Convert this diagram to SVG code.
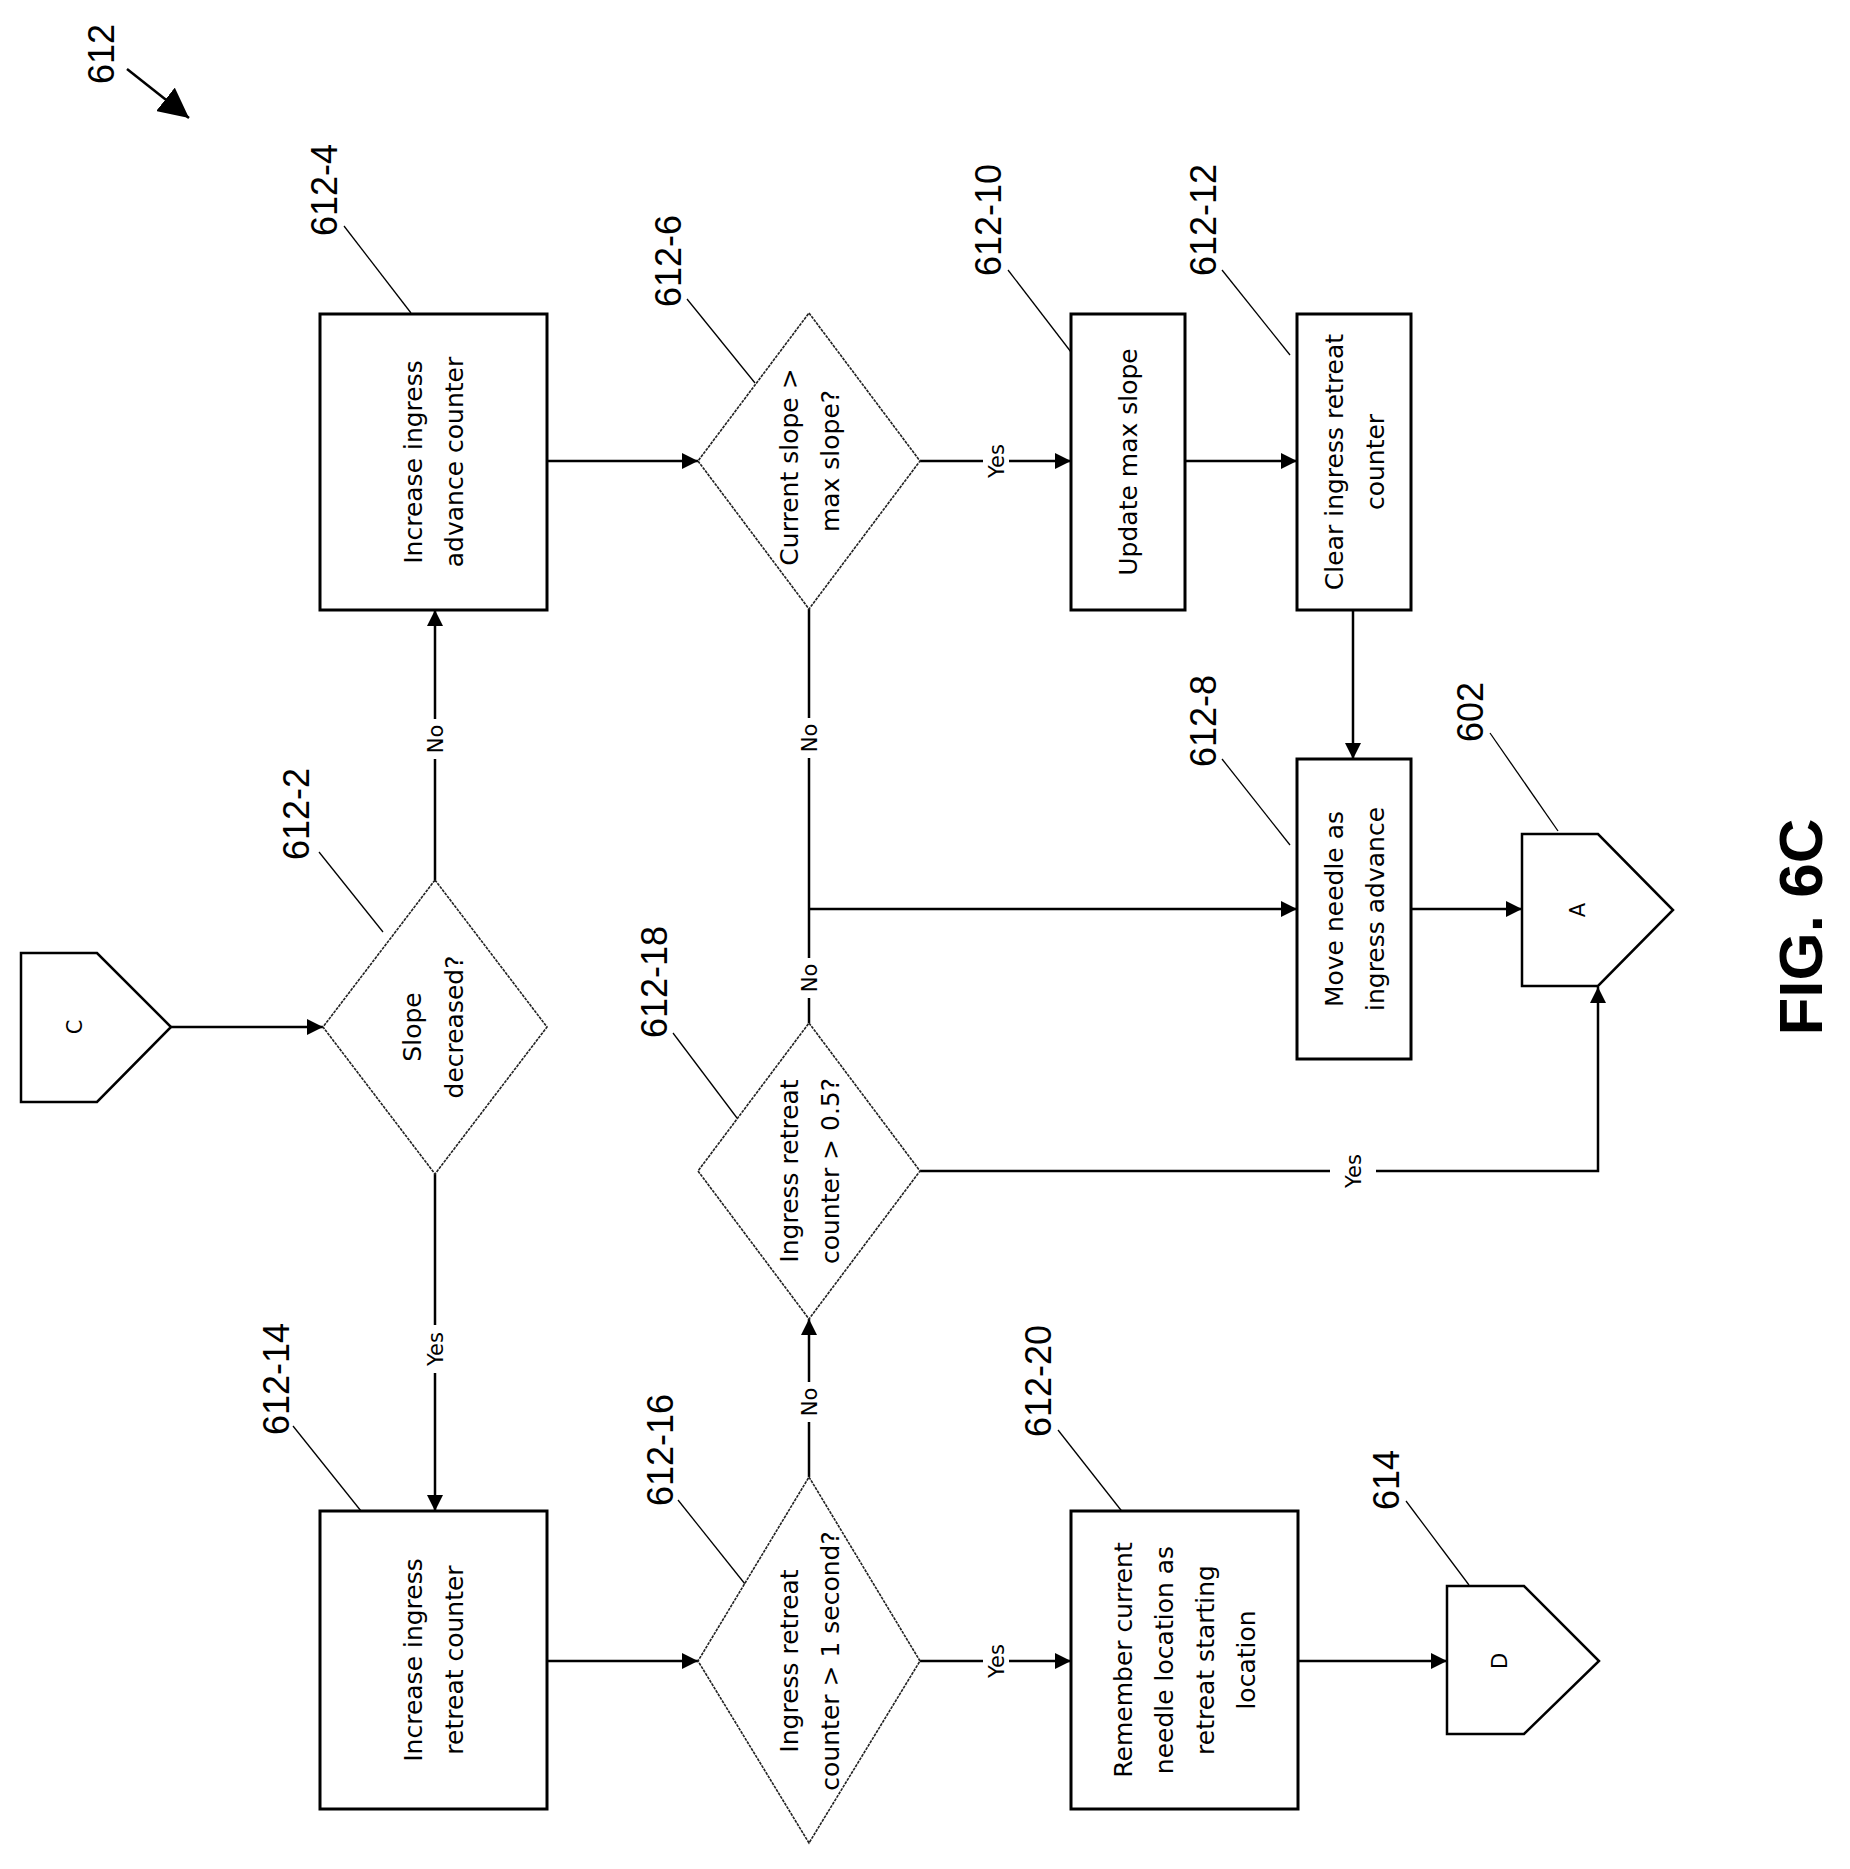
<svg xmlns="http://www.w3.org/2000/svg" width="1850" height="1869" viewBox="0 0 1850 1869">
<style>
.box{fill:#fff;stroke:#000;stroke-width:3}
.dia{fill:#fff;stroke:#222;stroke-width:1.6;stroke-dasharray:3 1}
.ln{fill:none;stroke:#000;stroke-width:2.5}
.ld{fill:none;stroke:#000;stroke-width:1.3}
.t{font-family:"DejaVu Sans",sans-serif;font-size:25px;text-anchor:middle;fill:#000}
.lab{font-family:"DejaVu Sans",sans-serif;font-size:21px;text-anchor:middle;fill:#000}
.ref{font-family:"Liberation Sans",sans-serif;font-size:36px;text-anchor:middle;fill:#000}
.bg{fill:#fff}
</style>
<defs>
<marker id="ah" viewBox="0 0 10 10" refX="10" refY="5" markerWidth="16" markerHeight="16" markerUnits="userSpaceOnUse" orient="auto"><path d="M0,0 L10,5 L0,10 z" fill="#000"/></marker>
<marker id="big" viewBox="0 0 10 10" refX="10" refY="5" markerWidth="30" markerHeight="30" markerUnits="userSpaceOnUse" orient="auto"><path d="M0,0 L10,5 L0,10 z" fill="#000"/></marker>
</defs>
<rect width="1850" height="1869" fill="#fff"/>
<g transform="translate(0,7)">
<g id="connectors">
<line class="ln" x1="127" y1="62" x2="189" y2="111" marker-end="url(#big)"/>
<line class="ln" x1="171" y1="1020" x2="323" y2="1020" marker-end="url(#ah)"/>
<line class="ln" x1="435" y1="873" x2="435" y2="603" marker-end="url(#ah)"/>
<line class="ln" x1="435" y1="1167" x2="435" y2="1504" marker-end="url(#ah)"/>
<line class="ln" x1="547" y1="454" x2="698" y2="454" marker-end="url(#ah)"/>
<line class="ln" x1="920" y1="454" x2="1071" y2="454" marker-end="url(#ah)"/>
<line class="ln" x1="1185" y1="454" x2="1297" y2="454" marker-end="url(#ah)"/>
<line class="ln" x1="1353" y1="603" x2="1353" y2="752" marker-end="url(#ah)"/>
<line class="ln" x1="809" y1="602" x2="809" y2="1016"/>
<line class="ln" x1="809" y1="902" x2="1297" y2="902" marker-end="url(#ah)"/>
<line class="ln" x1="1411" y1="902" x2="1522" y2="902" marker-end="url(#ah)"/>
<polyline class="ln" points="920,1164 1598,1164 1598,980" marker-end="url(#ah)"/>
<line class="ln" x1="809" y1="1470" x2="809" y2="1312" marker-end="url(#ah)"/>
<line class="ln" x1="547" y1="1654" x2="698" y2="1654" marker-end="url(#ah)"/>
<line class="ln" x1="920" y1="1654" x2="1071" y2="1654" marker-end="url(#ah)"/>
<line class="ln" x1="1298" y1="1654" x2="1447" y2="1654" marker-end="url(#ah)"/>
<g>
<rect class="bg" x="423" y="712" width="24" height="40"/><text class="lab" transform="translate(435,732) rotate(-90)" y="8">No</text>
<rect class="bg" x="423" y="1318" width="24" height="48"/><text class="lab" transform="translate(435,1342) rotate(-90)" y="8">Yes</text>
<rect class="bg" x="983" y="430" width="26" height="48"/><text class="lab" transform="translate(996,454) rotate(-90)" y="8">Yes</text>
<rect class="bg" x="797" y="711" width="24" height="40"/><text class="lab" transform="translate(809,731) rotate(-90)" y="8">No</text>
<rect class="bg" x="797" y="951" width="24" height="40"/><text class="lab" transform="translate(809,971) rotate(-90)" y="8">No</text>
<rect class="bg" x="797" y="1375" width="24" height="40"/><text class="lab" transform="translate(809,1395) rotate(-90)" y="8">No</text>
<rect class="bg" x="1330" y="1152" width="46" height="24"/><text class="lab" transform="translate(1353,1164) rotate(-90)" y="8">Yes</text>
<rect class="bg" x="983" y="1630" width="26" height="48"/><text class="lab" transform="translate(996,1654) rotate(-90)" y="8">Yes</text>
</g>
<g>
<line class="ld" x1="344" y1="219" x2="411" y2="306"/>
<line class="ld" x1="687" y1="292" x2="755" y2="376"/>
<line class="ld" x1="319" y1="845" x2="383" y2="925"/>
<line class="ld" x1="1008" y1="263" x2="1071" y2="345"/>
<line class="ld" x1="1222" y1="263" x2="1290" y2="348"/>
<line class="ld" x1="1222" y1="752" x2="1290" y2="838"/>
<line class="ld" x1="1490" y1="726" x2="1558" y2="824"/>
<line class="ld" x1="673" y1="1026" x2="737" y2="1111"/>
<line class="ld" x1="293" y1="1419" x2="361" y2="1504"/>
<line class="ld" x1="678" y1="1493" x2="745" y2="1577"/>
<line class="ld" x1="1058" y1="1423" x2="1124" y2="1507"/>
<line class="ld" x1="1406" y1="1494" x2="1469" y2="1578"/>
</g>
</g>

<g id="refs">
<text class="ref" transform="translate(101,47) rotate(-90)" y="13">612</text>
<text class="ref" transform="translate(324,183) rotate(-90)" y="13">612-4</text>
<text class="ref" transform="translate(668,254) rotate(-90)" y="13">612-6</text>
<text class="ref" transform="translate(296,807) rotate(-90)" y="13">612-2</text>
<text class="ref" transform="translate(988,213) rotate(-90)" y="13">612-10</text>
<text class="ref" transform="translate(1203,213) rotate(-90)" y="13">612-12</text>
<text class="ref" transform="translate(1203,714) rotate(-90)" y="13">612-8</text>
<text class="ref" transform="translate(1470,705) rotate(-90)" y="13">602</text>
<text class="ref" transform="translate(654,975) rotate(-90)" y="13">612-18</text>
<text class="ref" transform="translate(276,1372) rotate(-90)" y="13">612-14</text>
<text class="ref" transform="translate(660,1443) rotate(-90)" y="13">612-16</text>
<text class="ref" transform="translate(1038,1374) rotate(-90)" y="13">612-20</text>
<text class="ref" transform="translate(1386,1473) rotate(-90)" y="13">614</text>
<text transform="translate(1800,920) rotate(-90)" y="22" style="font-family:'Liberation Sans',sans-serif;font-weight:bold;font-size:62px;text-anchor:middle">FIG. 6C</text>
</g>

<g id="n-C">
<polygon points="21,946 97,946 171,1020 97,1095 21,1095" style="fill:#fff;stroke:#000;stroke-width:2.5"/>
<text class="lab" transform="translate(75,1020) rotate(-90)" y="7">C</text>
</g>
<g id="n-612-2">
<polygon class="dia" points="435,873 547,1020 435,1167 323,1020"/>
<text class="t" transform="translate(412,1020) rotate(-90)" y="9">Slope</text>
<text class="t" transform="translate(454,1020) rotate(-90)" y="9">decreased?</text>
</g>
<g id="n-612-4">
<rect class="box" x="320" y="307" width="227" height="296"/>
<text class="t" transform="translate(413,455) rotate(-90)" y="9">Increase ingress</text>
<text class="t" transform="translate(454,455) rotate(-90)" y="9">advance counter</text>
</g>
<g id="n-612-6">
<polygon class="dia" points="809,306 920,454 809,602 698,454"/>
<text class="t" transform="translate(789,460) rotate(-90)" y="9">Current slope &gt;</text>
<text class="t" transform="translate(830,454) rotate(-90)" y="9">max slope?</text>
</g>
<g id="n-612-10">
<rect class="box" x="1071" y="307" width="114" height="296"/>
<text class="t" transform="translate(1128,455) rotate(-90)" y="9">Update max slope</text>
</g>
<g id="n-612-12">
<rect class="box" x="1297" y="307" width="114" height="296"/>
<text class="t" transform="translate(1334,455) rotate(-90)" y="9">Clear ingress retreat</text>
<text class="t" transform="translate(1375,455) rotate(-90)" y="9">counter</text>
</g>
<g id="n-612-8">
<rect class="box" x="1297" y="752" width="114" height="300"/>
<text class="t" transform="translate(1334,902) rotate(-90)" y="9">Move needle as</text>
<text class="t" transform="translate(1375,902) rotate(-90)" y="9">ingress advance</text>
</g>
<g id="n-602">
<polygon points="1522,827 1598,827 1673,903 1598,979 1522,979" style="fill:#fff;stroke:#000;stroke-width:2.5"/>
<text class="lab" transform="translate(1578,903) rotate(-90)" y="7">A</text>
</g>
<g id="n-612-18">
<polygon class="dia" points="809,1016 920,1164 809,1312 698,1164"/>
<text class="t" transform="translate(789,1164) rotate(-90)" y="9">Ingress retreat</text>
<text class="t" transform="translate(830,1164) rotate(-90)" y="9">counter &gt; 0.5?</text>
</g>
<g id="n-612-14">
<rect class="box" x="320" y="1504" width="227" height="298"/>
<text class="t" transform="translate(413,1653) rotate(-90)" y="9">Increase ingress</text>
<text class="t" transform="translate(454,1653) rotate(-90)" y="9">retreat counter</text>
</g>
<g id="n-612-16">
<polygon class="dia" points="809,1470 920,1654 809,1836 698,1654"/>
<text class="t" transform="translate(789,1654) rotate(-90)" y="9">Ingress retreat</text>
<text class="t" transform="translate(830,1654) rotate(-90)" y="9">counter &gt; 1 second?</text>
</g>
<g id="n-612-20">
<rect class="box" x="1071" y="1504" width="227" height="298"/>
<text class="t" transform="translate(1123,1653) rotate(-90)" y="9">Remember current</text>
<text class="t" transform="translate(1164,1653) rotate(-90)" y="9">needle location as</text>
<text class="t" transform="translate(1205,1653) rotate(-90)" y="9">retreat starting</text>
<text class="t" transform="translate(1246,1653) rotate(-90)" y="9">location</text>
</g>
<g id="n-614">
<polygon points="1447,1579 1524,1579 1599,1654 1524,1727 1447,1727" style="fill:#fff;stroke:#000;stroke-width:2.5"/>
<text class="lab" transform="translate(1500,1654) rotate(-90)" y="7">D</text>
</g>
</g>
</svg>
